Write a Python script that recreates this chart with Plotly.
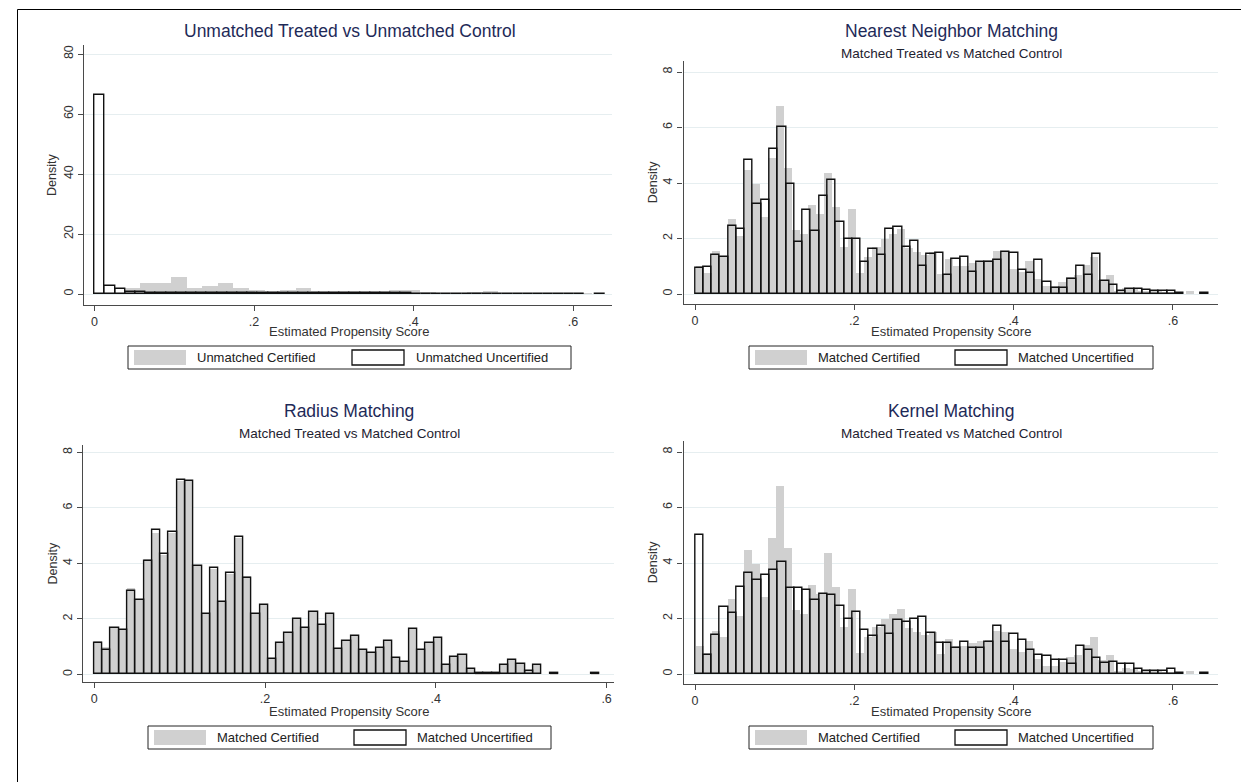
import plotly.graph_objects as go

W, H = 1241, 782

# ------------------------------------------------------------------ data
# Panel 1: Unmatched Treated vs Unmatched Control
p1_cert_start, p1_cert_width = 0.038, 0.01954
p1_cert = [2.1, 3.6, 3.6, 5.8, 1.9, 2.6, 3.6, 2.1, 1.5, 1.1,
           1.5, 1.9, 1.1, 1.0, 1.0, 1.05, 1.05, 1.25, 1.3, 0.8,
           0.15, 0.15, 0.55, 0.9, 0.15, 0.12, 0.12, 0.12, 0.12, 0.12]
p1_unc_start, p1_unc_width = 0.0, 0.0128
p1_unc = [66.2, 2.7, 1.8, 0.8, 0.8, 0.35, 0.35, 0.35, 0.35, 0.35,
          0.35, 0.35, 0.35, 0.35, 0.35, 0.35, 0.25, 0.25, 0.25, 0.25,
          0.25, 0.25, 0.25, 0.25, 0.25, 0.25, 0.25, 0.25, 0.25, 0.25,
          0.25, 0.15, 0.15, 0.15, 0.15, 0.15, 0.15, 0.15, 0.15, 0.15,
          0.15, 0.15, 0.15, 0.15, 0.15, 0.15, 0.15, 0.15, 0.0, 0.1]

# Matched certified (treated) - shared by Nearest Neighbor and Kernel panels
m_cert_start, m_cert_width = 0.0, 0.0101
m_cert = [1.0, 0.76, 1.56, 1.33, 2.7, 2.08, 4.48, 3.98, 2.79, 4.9,
          6.78, 4.55, 2.3, 2.15, 3.2, 2.87, 4.35, 3.12, 1.7, 3.05,
          0.74, 1.35, 1.7, 1.97, 2.18, 2.35, 1.65, 1.5, 1.42, 1.52,
          0.72, 1.27, 1.0, 1.0, 1.12, 1.18, 1.22, 1.55, 1.5, 0.9,
          0.8, 1.2, 0.55, 0.3, 0.3, 0.45, 0.6, 0.7, 1.05, 1.35,
          0.5, 0.68, 0.12, 0.22, 0.18, 0.12, 0.1, 0.1, 0.08, 0.04,
          0.0, 0.12]

# Nearest neighbour matched uncertified
nn_unc_start, nn_unc_width = 0.0, 0.0104
nn_unc = [0.95, 0.98, 1.39, 1.35, 2.46, 2.35, 4.83, 3.24, 3.39, 5.24,
          6.02, 3.98, 1.87, 3.02, 2.27, 3.54, 4.12, 2.61, 1.98, 1.98,
          1.17, 1.61, 1.39, 2.35, 2.42, 1.69, 1.90, 1.01, 1.45, 1.49,
          0.70, 1.27, 1.32, 0.80, 1.17, 1.17, 1.21, 1.51, 1.46, 0.85,
          0.74, 1.24, 0.42, 0.23, 0.23, 0.54, 1.02, 0.70, 1.43, 0.46,
          0.31, 0.10, 0.19, 0.19, 0.13, 0.10, 0.10, 0.10, 0.02, 0.0,
          0.0, 0.04]

# Radius matching
rad_start, rad_width = 0.0, 0.0097
rad_cert = [1.2, 0.97, 1.7, 1.6, 3.1, 2.7, 4.14, 5.1, 4.3, 5.1,
            6.95, 6.95, 3.9, 2.2, 3.8, 2.62, 3.6, 4.9, 3.56, 2.22,
            2.5, 0.6, 1.12, 1.5, 2.0, 1.66, 2.26, 1.77, 2.17, 0.9,
            1.2, 1.38, 0.88, 0.78, 0.94, 1.2, 0.6, 0.46, 1.65, 0.88,
            1.12, 1.32, 0.34, 0.64, 0.71, 0.19, 0.04, 0.04, 0.04, 0.32,
            0.53, 0.36, 0.11, 0.32, 0.0, 0.05, 0.0, 0.0, 0.0, 0.0,
            0.05]
rad_unc = [1.12, 0.88, 1.68, 1.59, 2.99, 2.67, 4.07, 5.2, 4.34, 5.12,
           7.0, 6.98, 3.89, 2.17, 3.82, 2.62, 3.64, 4.94, 3.48, 2.16,
           2.5, 0.56, 1.12, 1.5, 1.98, 1.66, 2.26, 1.77, 2.17, 0.9,
           1.2, 1.38, 0.88, 0.78, 0.94, 1.2, 0.6, 0.46, 1.65, 0.88,
           1.12, 1.32, 0.34, 0.64, 0.71, 0.19, 0.04, 0.04, 0.04, 0.32,
           0.53, 0.36, 0.11, 0.32, 0.0, 0.05, 0.0, 0.0, 0.0, 0.0,
           0.05]

# Kernel matched uncertified
ker_unc_start, ker_unc_width = 0.0, 0.0104
ker_unc = [5.0, 0.70, 1.40, 2.40, 2.20, 3.14, 3.65, 3.39, 3.57, 3.76,
           4.02, 3.10, 3.10, 3.02, 2.65, 2.87, 2.85, 2.46, 1.99, 2.25,
           1.58, 1.37, 1.74, 1.44, 1.95, 1.87, 1.99, 2.04, 1.46, 1.10,
           1.10, 0.95, 1.17, 0.92, 0.95, 1.17, 1.74, 1.17, 1.44, 1.24,
           0.85, 0.70, 0.65, 0.50, 0.50, 0.36, 1.02, 0.88, 0.58, 0.39,
           0.44, 0.37, 0.37, 0.17, 0.10, 0.10, 0.10, 0.17, 0.02, 0.0,
           0.0, 0.04]

x_ticks = [0, 0.2, 0.4, 0.6]
x_ticktext = ["0", ".2", ".4", ".6"]
y_ticks_p1 = [0, 20, 40, 60, 80]
y_ticks = [0, 2, 4, 6, 8]

titles = ["Unmatched Treated vs Unmatched Control", "Nearest Neighbor Matching",
          "Radius Matching", "Kernel Matching"]
subtitle = "Matched Treated vs Matched Control"
x_title = "Estimated Propensity Score"
y_title = "Density"
legend_p1 = ["Unmatched Certified", "Unmatched Uncertified"]
legend_m = ["Matched Certified", "Matched Uncertified"]

# ------------------------------------------------------------------ style
GRAY = "#d0d0d0"
FONT = "Liberation Sans, Arial, sans-serif"
TITLE_C = "#1e2a58"
AXIS_C = "#4a4a4a"
GRID_C = "#e6eef0"


def px_x(p):
    return p / W


def px_y(p):
    return 1 - p / H


def centers(start, width, n):
    return [start + (i + 0.5) * width for i in range(n)]


def clean(vals):
    return [v if v > 0 else None for v in vals]


# panel geometry in pixels: plot-region box, data origin and scale
panels = [
    dict(box=(84.4, 45, 612, 305), x0=94.5, xs=797.5, y0=294, ys=3.0,
         yt=y_ticks_p1),
    dict(box=(683.5, 61, 1217.5, 303.5), x0=695, xs=796.5, y0=294, ys=27.75,
         yt=y_ticks),
    dict(box=(83.3, 445, 614, 682), x0=94.2, xs=854.0, y0=674.3, ys=27.75,
         yt=y_ticks),
    dict(box=(683.5, 441, 1217.5, 683.5), x0=695, xs=796.5, y0=674, ys=27.75,
         yt=y_ticks),
]

series = [
    ((p1_cert_start, p1_cert_width, p1_cert), (p1_unc_start, p1_unc_width, p1_unc)),
    ((m_cert_start, m_cert_width, m_cert), (nn_unc_start, nn_unc_width, nn_unc)),
    ((rad_start, rad_width, rad_cert), (rad_start, rad_width, rad_unc)),
    ((m_cert_start, m_cert_width, m_cert), (ker_unc_start, ker_unc_width, ker_unc)),
]

fig = go.Figure()
layout = dict(
    width=W, height=H, autosize=False,
    margin=dict(l=0, r=0, t=0, b=0),
    paper_bgcolor="white", plot_bgcolor="white",
    barmode="overlay", bargap=0, showlegend=False,
    font=dict(family=FONT, color="#333333"),
)
annotations = []
shapes = []

for i, (pn, (cert, unc)) in enumerate(zip(panels, series)):
    k = "" if i == 0 else str(i + 1)
    xa, ya = "x" + k, "y" + k
    L, T, R, B = pn["box"]
    xr = [(L - pn["x0"]) / pn["xs"], (R - pn["x0"]) / pn["xs"]]
    yr = [(pn["y0"] - B) / pn["ys"], (pn["y0"] - T) / pn["ys"]]

    cs, cw, cv = cert
    fig.add_trace(go.Bar(x=centers(cs, cw, len(cv)), y=clean(cv), width=cw,
                         marker=dict(color=GRAY, line=dict(width=0)),
                         xaxis=xa, yaxis=ya, hoverinfo="skip"))
    us, uw, uv = unc
    fig.add_trace(go.Bar(x=centers(us, uw, len(uv)), y=clean(uv), width=uw,
                         marker=dict(color="rgba(0,0,0,0)",
                                     line=dict(color="#111111", width=1.4)),
                         xaxis=xa, yaxis=ya, hoverinfo="skip"))

    layout["xaxis" + k] = dict(
        domain=[px_x(L), px_x(R)], range=xr, anchor=ya,
        tickvals=x_ticks, ticktext=x_ticktext, ticks="outside", ticklen=5,
        tickcolor=AXIS_C, tickwidth=1.2, showline=True, linecolor=AXIS_C,
        linewidth=1.3, showgrid=False, zeroline=False,
        tickfont=dict(family=FONT, size=12.5, color="#333333"),
    )
    layout["yaxis" + k] = dict(
        domain=[px_y(B), px_y(T)], range=yr, anchor=xa,
        tickvals=pn["yt"], ticks="outside", ticklen=5, tickangle=-90,
        tickcolor=AXIS_C, tickwidth=1.2, showline=True, linecolor=AXIS_C,
        linewidth=1.3, showgrid=True, gridcolor=GRID_C, gridwidth=1,
        zeroline=False, tickfont=dict(family=FONT, size=12.5, color="#333333"),
    )

    # titles
    if i == 0:
        annotations.append(dict(text=titles[0], x=px_x(350), y=px_y(31),
                                font=dict(size=17.5, color=TITLE_C)))
    else:
        ty = 31 if i == 1 else 411
        tx = 951 if i in (1, 3) else 349
        annotations.append(dict(text=titles[i], x=px_x(tx), y=px_y(ty),
                                font=dict(size=17.5, color=TITLE_C)))
        annotations.append(dict(text=subtitle, x=px_x(tx), y=px_y(ty + 22),
                                font=dict(size=13.5, color="#1e2230")))
    # axis titles
    xtx = 951 if i in (1, 3) else 349
    xty = 331 if i < 2 else 711
    annotations.append(dict(text=x_title, x=px_x(xtx), y=px_y(xty),
                            font=dict(size=13, color="#333333")))
    ytx = 52 if i in (0, 2) else 653
    yty = (T + B) / 2
    annotations.append(dict(text=y_title, x=px_x(ytx), y=px_y(yty),
                            textangle=-90, font=dict(size=12.5, color="#333333")))

    # legend box
    labels = legend_p1 if i == 0 else legend_m
    if i == 0:
        bx0, bx1, sw1, tx1, sw2, tx2 = 128, 571, 134, 195, 352, 414
    elif i == 2:
        bx0, bx1, sw1, tx1, sw2, tx2 = 148, 551, 154, 215, 354, 415
    else:
        bx0, bx1, sw1, tx1, sw2, tx2 = 749, 1153, 755, 816, 955, 1016
    by0 = 346 if i < 2 else 726
    shapes.append(dict(type="rect", xref="paper", yref="paper",
                       x0=px_x(bx0), x1=px_x(bx1), y0=px_y(by0 + 23), y1=px_y(by0),
                       line=dict(color="#222222", width=1), fillcolor="white"))
    shapes.append(dict(type="rect", xref="paper", yref="paper",
                       x0=px_x(sw1), x1=px_x(sw1 + 52), y0=px_y(by0 + 19), y1=px_y(by0 + 4),
                       line=dict(width=0), fillcolor=GRAY))
    shapes.append(dict(type="rect", xref="paper", yref="paper",
                       x0=px_x(sw2), x1=px_x(sw2 + 52), y0=px_y(by0 + 19), y1=px_y(by0 + 4),
                       line=dict(color="#111111", width=1.3), fillcolor="white"))
    annotations.append(dict(text=labels[0], x=px_x(tx1), y=px_y(by0 + 11.5),
                            xanchor="left", font=dict(size=13, color="#222222")))
    annotations.append(dict(text=labels[1], x=px_x(tx2), y=px_y(by0 + 11.5),
                            xanchor="left", font=dict(size=13, color="#222222")))

# outer frame (right and bottom edges fall outside the visible page)
shapes.append(dict(type="rect", xref="paper", yref="paper",
                   x0=px_x(17.5), x1=px_x(1250), y0=px_y(800), y1=px_y(9.5),
                   line=dict(color="#000000", width=1), fillcolor="rgba(0,0,0,0)"))

for a in annotations:
    a.setdefault("xref", "paper")
    a.setdefault("yref", "paper")
    a.setdefault("showarrow", False)
    a.setdefault("xanchor", "center")
    a.setdefault("yanchor", "middle")

layout["annotations"] = annotations
layout["shapes"] = shapes
fig.update_layout(**layout)

fig.write_html("out.html",
               config={"displayModeBar": False},
               post_script="document.body.style.margin='0';"
                           "document.documentElement.style.overflow='hidden';")
